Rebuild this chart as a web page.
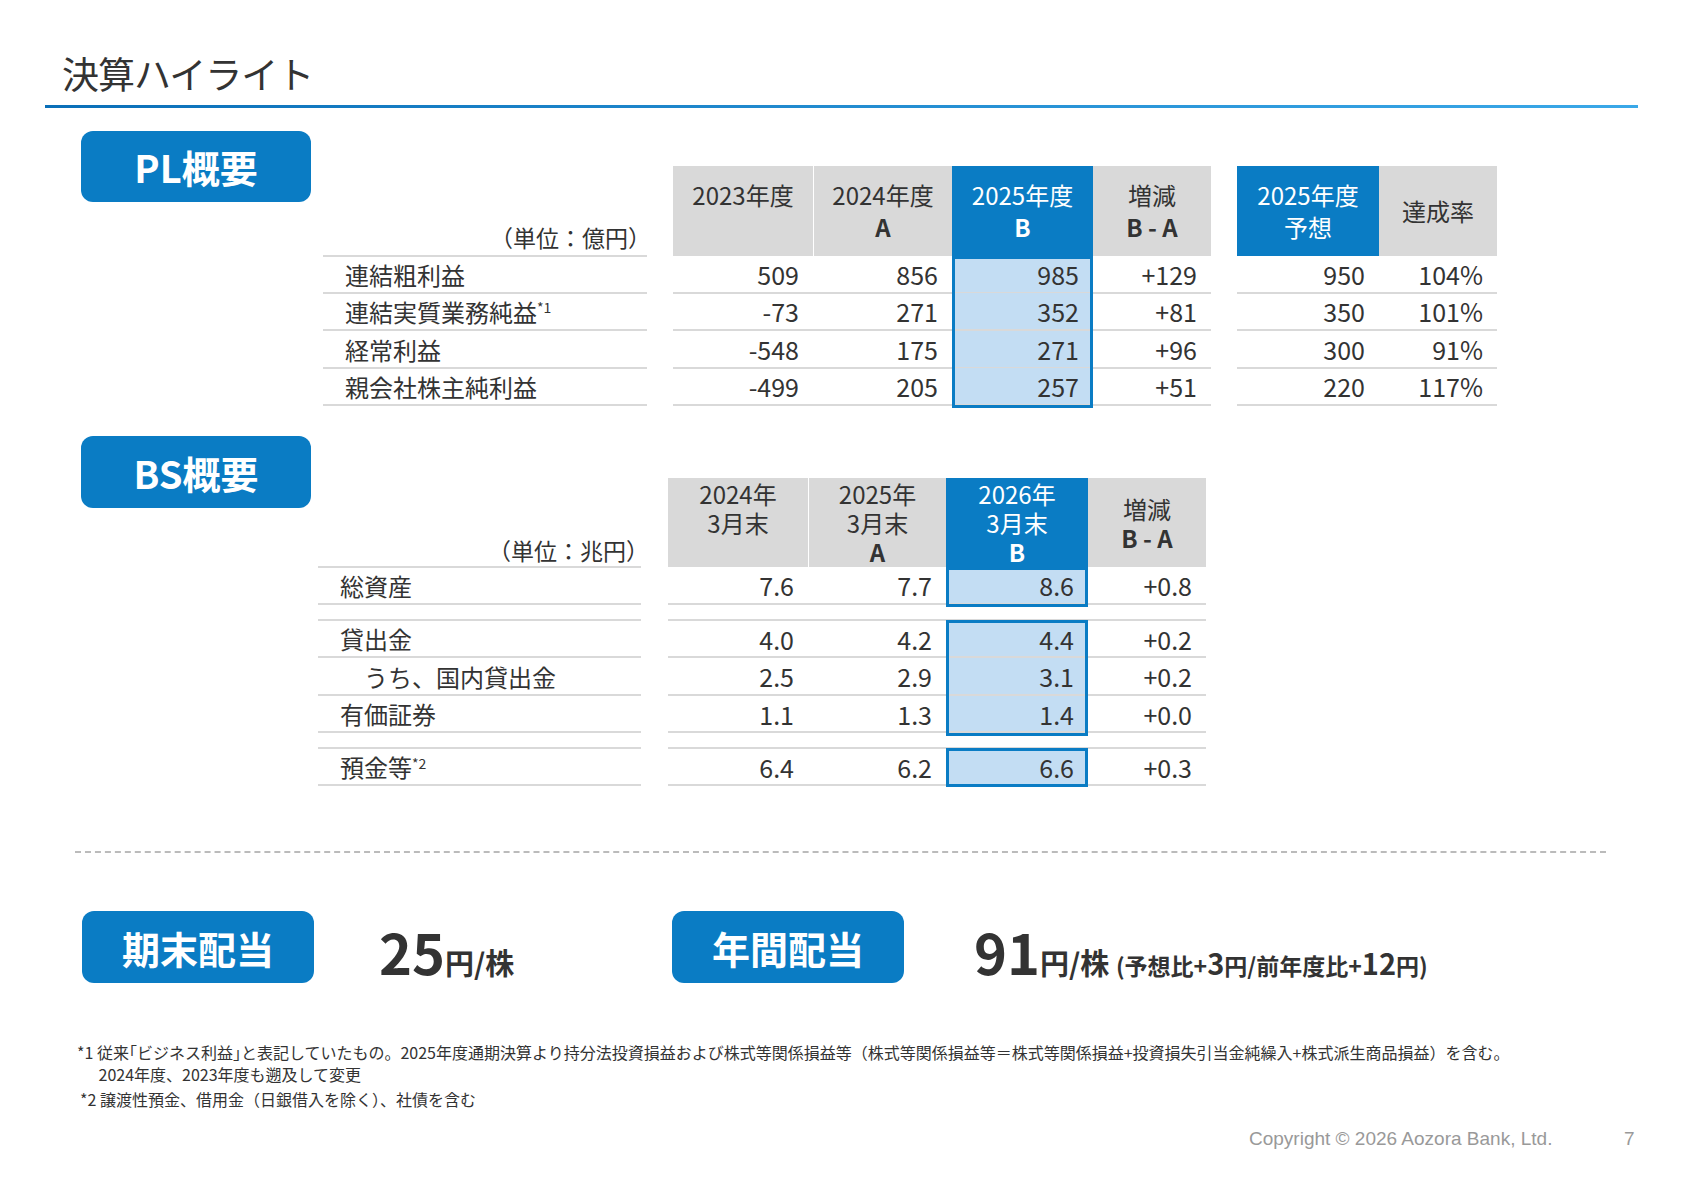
<!DOCTYPE html>
<html><head><meta charset="utf-8">
<script src="https://cdn.jsdelivr.net/npm/chart.js@4/dist/chart.umd.min.js"></script>
<style>
body{margin:0;width:1684px;height:1190px;background:#fff;font-family:"Noto Sans CJK JP","Noto Sans",sans-serif;color:#333;position:relative;overflow:hidden}
.a{position:absolute;box-sizing:border-box}
.badge{background:#0a7cc4;color:#fff;border-radius:12px;font-weight:bold;font-size:38px;display:flex;align-items:center;justify-content:center}
.hd{background:#d9d9d9;display:flex;flex-direction:column;align-items:center;justify-content:center;font-size:24px;line-height:32px;text-align:center;color:#333}
.hb{background:#0a7cc4;color:#fff}
.num{font-size:25px;text-align:right;padding-right:14px;display:flex;align-items:center;justify-content:flex-end}
.lab{font-size:24px;display:flex;align-items:center;padding-left:22px}
.rl{border-bottom:2px solid #d9d9d9}
</style></head><body>
<div class="a" style="left:62px;top:46px;font-size:37px;color:#333;letter-spacing:-1px">決算ハイライト</div>
<div class="a" style="left:45px;top:105px;width:1593px;height:3px;background:linear-gradient(90deg,#0a6fb8,#3aa8e8)"></div>
<div class="a badge" style="left:81px;top:131px;width:230px;height:71px">PL概要</div>
<div class="a badge" style="left:81px;top:436px;width:230px;height:72px">BS概要</div>
<div class="a" style="left:75px;top:851px;width:1531px;border-top:2px dashed #bbb"></div>
<div class="a badge" style="left:82px;top:911px;width:232px;height:72px">期末配当</div>
<div class="a badge" style="left:672px;top:911px;width:232px;height:72px">年間配当</div>
<div class="a" style="left:379px;top:910px;font-weight:bold;color:#333;white-space:nowrap"><span style="font-size:56px">25</span><span style="font-size:29px">円/株</span></div>
<div class="a" style="left:974px;top:910px;font-weight:bold;color:#333;white-space:nowrap"><span style="font-size:56px">91</span><span style="font-size:29px">円/株 </span><span style="font-size:23px">(予想比+</span><span style="font-size:29px">3</span><span style="font-size:23px">円/前年度比+</span><span style="font-size:29px">12</span><span style="font-size:23px">円)</span></div>
<div class="a" style="left:77px;top:1041px;font-size:16px;line-height:22px;white-space:nowrap">*1 従来｢ビジネス利益｣と表記していたもの。2025年度通期決算より持分法投資損益および株式等関係損益等（株式等関係損益等＝株式等関係損益+投資損失引当金純繰入+株式派生商品損益）を含む。<br>&nbsp;&nbsp;&nbsp;&nbsp;&nbsp;&nbsp;2024年度、2023年度も遡及して変更</div>
<div class="a" style="left:80px;top:1087px;font-size:16px;white-space:nowrap">*2 譲渡性預金、借用金（日銀借入を除く）、社債を含む</div>
<div class="a" style="left:1249px;top:1128px;font-size:19px;color:#999;font-family:'Liberation Sans',Arial">Copyright © 2026 Aozora Bank, Ltd.</div>
<div class="a" style="left:1624px;top:1128px;font-size:19px;color:#999;font-family:'Liberation Sans',Arial">7</div>
<canvas id="c" class="a" style="left:0;top:0;width:1px;height:1px;opacity:0"></canvas>
<script>
// ---- data ----
const plHeaders=[["2023年度","&nbsp;"],["2024年度","A"],["2025年度","B"],["増減","B - A"]];
const plFcHeaders=[["2025年度","予想"],["達成率",""]];
const plLabels=["連結粗利益","連結実質業務純益<sup>*1</sup>","経常利益","親会社株主純利益"];
const pl2023=["509","-73","-548","-499"];
const pl2024=["856","271","175","205"];
const pl2025=["985","352","271","257"];
const plDiff=["+129","+81","+96","+51"];
const plForecast=["950","350","300","220"];
const plRate=["104%","101%","91%","117%"];
const bsHeaders=[["2024年","3月末","&nbsp;"],["2025年","3月末","A"],["2026年","3月末","B"],["増減","B - A",""]];
const bsLabels=["総資産","貸出金","　うち、国内貸出金","有価証券","預金等<sup>*2</sup>"];
const bs2024=["7.6","4.0","2.5","1.1","6.4"];
const bs2025=["7.7","4.2","2.9","1.3","6.2"];
const bs2026=["8.6","4.4","3.1","1.4","6.6"];
const bsDiff=["+0.8","+0.2","+0.2","+0.0","+0.3"];

function el(cls,st,html){const d=document.createElement('div');d.className='a '+cls;Object.assign(d.style,st);d.innerHTML=html;document.body.appendChild(d);return d;}
function px(v){return v+'px';}
function fmt(s){return /^[A-Z -]+$/.test(s)?'<b>'+s+'</b>':s;}
// PL
const plCols=[[673,140],[813,139],[952,141],[1093,118]];
const plFc=[[1237,142],[1379,118]];
const plRows=[256,293,331,368];const plRH=38;
plHeaders.forEach((h,i)=>el('hd'+(i==2?' hb':''),{left:px(plCols[i][0]+(i==1?1:0)),top:'166px',width:px(plCols[i][1]-(i==1?1:0)),height:'90px'},h.filter(s=>s!=="").map(fmt).join('<br>')));
plFcHeaders.forEach((h,i)=>el('hd'+(i==0?' hb':''),{left:px(plFc[i][0]),top:'166px',width:px(plFc[i][1]),height:'90px'},h.filter(s=>s!=="").join('<br>')));
el('',{left:'490px',top:'224px',fontSize:'23px',lineHeight:'26px'},'（単位：億円）');
el('',{left:'323px',top:'255px',width:'324px',borderTop:'2px solid #d9d9d9'},'');
const plData=[pl2023,pl2024,pl2025,plDiff];
plRows.forEach((y,r)=>{
  el('lab rl',{left:'323px',top:px(y),width:'324px',height:px(plRH)},plLabels[r]);
  plCols.forEach((c,i)=>el('num rl',{left:px(c[0]),top:px(y),width:px(c[1]),height:px(plRH),background:i==2?'#c3ddf3':'transparent'},plData[i][r]));
  [plForecast,plRate].forEach((d,i)=>el('num rl',{left:px(plFc[i][0]),top:px(y),width:px(plFc[i][1]),height:px(plRH)},d[r]));
});
el('',{left:'952px',top:'256px',width:'141px',height:'152px',border:'3px solid #0a7cc4'},'');
// BS
const bsCols=[[668,140],[808,138],[946,142],[1088,118]];
const bsRows=[567,621,658,696,749];const bsRH=[38,37,38,37,37];
bsHeaders.forEach((h,i)=>el('hd'+(i==2?' hb':''),{left:px(bsCols[i][0]+(i==1?1:0)),top:'478px',width:px(bsCols[i][1]-(i==1?1:0)),height:'89px',lineHeight:'29px'},h.filter(s=>s!=="").map(fmt).join('<br>')));
el('',{left:'488px',top:'537px',fontSize:'23px',lineHeight:'26px'},'（単位：兆円）');
el('',{left:'318px',top:'566px',width:'323px',borderTop:'2px solid #d9d9d9'},'');
[619,747].forEach(y=>{el('',{left:'318px',top:px(y),width:'323px',borderTop:'2px solid #d9d9d9'},'');el('',{left:'668px',top:px(y),width:'538px',borderTop:'2px solid #d9d9d9'},'');});
const bsData=[bs2024,bs2025,bs2026,bsDiff];
bsRows.forEach((y,r)=>{
  el('lab rl',{left:'318px',top:px(y),width:'323px',height:px(bsRH[r])},bsLabels[r]);
  bsCols.forEach((c,i)=>el('num rl',{left:px(c[0]),top:px(y),width:px(c[1]),height:px(bsRH[r]),background:i==2?'#c3ddf3':'transparent'},bsData[i][r]));
});
el('',{left:'946px',top:'567px',width:'142px',height:'40px',border:'3px solid #0a7cc4'},'');
el('',{left:'946px',top:'620px',width:'142px',height:'116px',border:'3px solid #0a7cc4'},'');
el('',{left:'946px',top:'748px',width:'142px',height:'39px',border:'3px solid #0a7cc4'},'');
document.querySelectorAll('sup').forEach(s=>{s.style.fontSize='14px';s.style.alignSelf='flex-start';s.style.marginTop='4px'});
</script>
</body></html>
